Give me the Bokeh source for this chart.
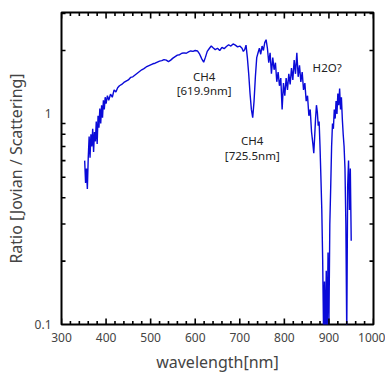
import math
from bokeh.plotting import figure
from bokeh.models import FixedTicker, Range1d, ColumnDataSource
from bokeh.embed import file_html
from bokeh.resources import INLINE
from bokeh.core.properties import value

# --- data ---
wavelength = [
    352, 354, 356, 358, 360, 362, 364, 366, 368, 370, 372, 374, 376, 378, 380,
    382, 384, 386, 388, 390, 392, 394, 396, 398, 400, 403, 406, 410, 414, 418,
    422, 426, 430, 435, 440, 445, 450, 455, 460, 465, 470, 475, 480, 485, 490,
    495, 500, 505, 510, 515, 520, 525, 530, 535, 540, 545, 550, 555, 560, 565,
    570, 575, 580, 585, 590, 595, 600, 605, 610, 615, 619, 623, 627, 632, 636,
    640, 645, 650, 655, 660, 665, 670, 675, 680, 685, 690, 695, 700, 705, 708,
    711, 714, 717, 720, 723, 726, 729, 732, 735, 738, 741, 744, 747, 750, 753,
    756, 759, 762, 765, 768, 771, 774, 777, 780, 783, 786, 789, 792, 795, 798,
    801, 804, 807, 810, 813, 816, 819, 822, 825, 828, 831, 834, 837, 840, 843,
    846, 849, 852, 855, 858, 861, 864, 866, 868, 870, 872, 874, 876, 878, 880,
    882, 884, 886, 888, 890, 892, 894, 896, 898, 900, 902, 904, 906, 908, 910,
    912, 914, 916, 918, 920, 922, 924, 926, 928, 930, 932, 934, 936, 938, 940,
    942, 944, 946, 948, 950,
]
ratio = [
    0.60, 0.47, 0.55, 0.44, 0.62, 0.78, 0.62, 0.80, 0.70, 0.85, 0.66, 0.82, 0.74, 0.92, 0.72,
    0.98, 0.86, 1.06, 0.90, 1.10, 0.96, 1.16, 1.05, 1.20, 1.12, 1.22, 1.16, 1.24, 1.20, 1.30,
    1.27, 1.33, 1.36, 1.38, 1.41, 1.43, 1.45, 1.49, 1.50, 1.53, 1.56, 1.59, 1.62, 1.64, 1.67,
    1.69, 1.71, 1.73, 1.74, 1.76, 1.78, 1.79, 1.81, 1.80, 1.77, 1.80, 1.84, 1.87, 1.90, 1.91,
    1.94, 1.95, 1.94, 1.97, 1.99, 1.98, 2.00, 1.99, 1.92, 1.82, 1.76, 1.86, 1.98, 2.05, 2.10,
    2.06, 2.02, 2.05, 2.00, 2.07, 2.04, 2.09, 2.13, 2.10, 2.15, 2.12, 2.08, 2.10, 2.05, 1.98,
    2.02, 2.12, 1.85, 1.55, 1.25, 1.05, 0.96, 1.15, 1.50, 1.85, 1.95, 2.05, 1.92, 2.10, 2.00,
    2.18, 2.25, 2.05, 1.75, 1.95, 1.55, 1.85, 1.62, 1.75, 1.42, 1.58, 1.36, 1.48, 1.05, 1.40,
    1.22, 1.48, 1.30, 1.55, 1.38, 1.65, 1.45, 1.80, 1.55, 1.95, 1.50, 1.70, 1.42, 1.58, 1.30,
    1.40, 1.15, 1.22, 0.98, 1.05, 0.82, 0.72, 0.65, 0.78, 0.95, 1.10, 1.02, 0.88, 0.92, 0.70,
    0.50, 0.35, 0.20, 0.09, 0.16, 0.08, 0.18, 0.09, 0.22, 0.10, 0.30, 0.45, 0.70, 0.90, 0.85,
    1.05, 0.95, 1.15, 1.00, 1.25, 1.10, 1.32, 1.05, 1.20, 0.95, 0.80, 0.70, 0.55, 0.30, 0.09,
    0.45, 0.60, 0.35, 0.55, 0.25,
]

note_text = ["CH4", "[619.9nm]", "CH4", "[725.5nm]", "H2O?"]
note_x = [620, 620, 728, 728, 896]
note_y = [1.50, 1.287, 0.744, 0.638, 1.66]

x_min, x_max = 300, 1000
y_min, y_max = 0.1, 3.03
x_ticks = [300, 400, 500, 600, 700, 800, 900, 1000]
x_minor = [v for v in range(300, 1001, 20) if v % 100 != 0]
y_major = [0.1, 1]
y_minor = [0.2, 0.3, 0.4, 0.5, 0.6, 0.7, 0.8, 0.9, 2, 3]

FONT = "Noto Sans"

p = figure(width=385, height=376, output_backend="svg", toolbar_location=None,
           y_axis_type="log", x_range=Range1d(x_min, x_max), y_range=Range1d(y_min, y_max),
           min_border_left=61, min_border_right=12, min_border_top=12, min_border_bottom=52)
p.grid.visible = False
p.outline_line_color = "black"
p.outline_line_width = 2
p.background_fill_color = "white"
p.border_fill_color = "white"

p.line(wavelength, ratio, line_color="#0a0ad8", line_width=1.4)

src = ColumnDataSource(dict(x=note_x, y=note_y, t=note_text))
p.text("x", "y", text="t", source=src, text_align="center", text_baseline="middle",
       text_font=value(FONT), text_font_size="11.5px", text_color="#222222")

# inward tick marks on all four sides (rays of fixed screen length)
for ys, ang in ((y_min, math.pi / 2), (y_max, -math.pi / 2)):
    p.ray(x_ticks, [ys] * len(x_ticks), length=6, length_units="screen", angle=ang,
          line_color="black", line_width=1.6)
    p.ray(x_minor, [ys] * len(x_minor), length=3.5, length_units="screen", angle=ang,
          line_color="black", line_width=1.6)
for xs, ang in ((x_min, 0), (x_max, math.pi)):
    p.ray([xs] * len(y_minor), y_minor, length=4, length_units="screen", angle=ang,
          line_color="black", line_width=1.6)

# bottom axis
xa = p.xaxis[0]
xa.ticker = FixedTicker(ticks=x_ticks, minor_ticks=[])
xa.axis_label = "wavelength[nm]"
xa.axis_label_text_font = FONT
xa.axis_label_text_font_size = "16px"
xa.axis_label_text_font_style = "normal"
xa.axis_label_standoff = 6
xa.major_label_text_font = FONT
xa.major_label_text_font_size = "12px"
xa.major_label_standoff = 8
xa.major_tick_in = 0
xa.major_tick_out = 0
xa.minor_tick_in = 0
xa.minor_tick_out = 0
xa.axis_line_color = None

ya = p.yaxis[0]
ya.ticker = FixedTicker(ticks=y_major, minor_ticks=[])
ya.axis_label = "Ratio [Jovian / Scattering]"
ya.axis_label_text_font = FONT
ya.axis_label_text_font_size = "16px"
ya.axis_label_text_font_style = "normal"
ya.axis_label_standoff = 5
ya.major_label_text_font = FONT
ya.major_label_text_font_size = "12px"
ya.major_label_standoff = 10
ya.major_label_overrides = {0.1: "0.1", 1: "1"}
ya.major_tick_in = 0
ya.major_tick_out = 0
ya.minor_tick_in = 0
ya.minor_tick_out = 0
ya.axis_line_color = None

open("out.html", "w").write(file_html(p, INLINE))
